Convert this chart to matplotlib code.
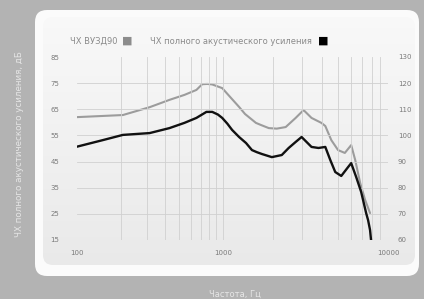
import numpy as np
import matplotlib
matplotlib.use("Agg")
import matplotlib.pyplot as plt
from matplotlib.patches import FancyBboxPatch
from matplotlib.transforms import IdentityTransform

# ---- data ----
freq_black = [100, 150, 206, 314, 429, 543, 656, 768, 842, 920, 985, 1060, 1133, 1249, 1376,
              1495, 1600, 1717, 1973, 2267, 2497, 2753, 2991, 3205, 3435, 3786, 4165, 4465,
              4786, 5205, 5727, 5979, 6411, 6873, 7368, 7572, 7782, 7890]
gain_black = [50.7, 53.2, 55.2, 55.9, 57.8, 59.8, 61.7, 64.0, 64.0, 63.0, 61.7, 59.5, 57.1,
              54.4, 52.1, 49.4, 48.6, 47.9, 46.7, 47.5, 50.2, 52.5, 54.4, 52.5, 50.6, 50.2,
              50.6, 45.6, 41.0, 39.5, 42.9, 44.4, 39.1, 33.4, 25.3, 22.6, 18.8, 15.0]

freq_grey = [100, 206, 314, 429, 543, 656, 719, 780, 842, 985, 1117, 1249, 1357, 1580, 1694,
             1892, 2115, 2395, 2753, 3075, 3435, 3943, 4165, 4530, 4977, 5471, 5979, 6325,
             6779, 7266, 7782]
level_grey = [107.0, 107.8, 110.8, 113.6, 115.5, 117.4, 119.6, 119.7, 119.5, 118.1, 114.3,
              110.9, 108.2, 104.8, 104.0, 102.8, 102.6, 103.2, 106.7, 109.7, 106.7, 104.8,
              103.6, 98.2, 94.4, 93.3, 96.3, 90.6, 81.8, 75.3, 70.3]

left_ticks = [15, 25, 35, 45, 55, 65, 75, 85]
right_ticks = [60, 70, 80, 90, 100, 110, 120, 130]
grid_y = [25, 35, 45, 55, 65, 75]
x_major = [100, 1000, 10000]
x_minor = [200, 300, 400, 500, 600, 700, 800, 900,
           2000, 3000, 4000, 5000, 6000, 7000, 8000, 9000]

legend_grey = "ЧХ ВУЗД90"
legend_black = "ЧХ полного акустического усиления"
ylabel_text = "ЧХ полного акустического усиления, дБ"
xlabel_text = "Частота, Гц"

W, H = 424, 299
fig = plt.figure(figsize=(W / 100, H / 100), dpi=100)
fig.patch.set_facecolor("#b3b3b3")

# white rounded card
card = FancyBboxPatch((35, 23), 384, 266, boxstyle="round,pad=0,rounding_size=12",
                      transform=IdentityTransform(), facecolor="#fbfbfb",
                      edgecolor="none", zorder=0)
fig.add_artist(card)

# inner light panel with gradient
px0, py0, px1, py1 = 43, 34, 415, 282
bg = fig.add_axes([px0 / W, py0 / H, (px1 - px0) / W, (py1 - py0) / H], zorder=0.5)
grad = np.linspace(0.975, 0.915, 100).reshape(-1, 1)
grad_img = np.dstack([grad, grad, grad])
im = bg.imshow(grad_img, aspect="auto", extent=[0, 1, 0, 1])
clip = FancyBboxPatch((px0, py0), px1 - px0, py1 - py0,
                      boxstyle="round,pad=0,rounding_size=10",
                      transform=IdentityTransform(), facecolor="none", edgecolor="none")
im.set_clip_path(clip)
bg.axis("off")


def fwd(f):
    u = np.log10(np.clip(np.asarray(f, dtype=float), 1e-6, None))
    return np.where(u <= 3, (u - 2) * 0.47, 0.47 + (u - 3) * 0.53)


def inv(v):
    v = np.asarray(v, dtype=float)
    return np.where(v <= 0.47, 10 ** (2 + v / 0.47), 10 ** (3 + (v - 0.47) / 0.53))


ax_l, ax_r, ax_t, ax_b = 77, 388, 57, 240
ax = fig.add_axes([ax_l / W, 1 - ax_b / H, (ax_r - ax_l) / W, (ax_b - ax_t) / H], zorder=3)
ax.set_facecolor("none")
ax.set_xscale("function", functions=(fwd, inv))
ax.set_xlim(100, 10000)
ax.set_ylim(15, 85)
ax2 = ax.twinx()
ax2.set_zorder(2)
ax2.set_facecolor("none")
ax2.set_ylim(60, 130)
ax.set_zorder(3)

for a in (ax, ax2):
    for s in a.spines.values():
        s.set_visible(False)

grid_c = "#d0d0d0"
for v in grid_y:
    ax.axhline(v, color=grid_c, lw=0.6, zorder=0)
for v in x_minor + [1000]:
    ax.axvline(v, color=grid_c, lw=0.6, zorder=0)

ax.plot(freq_black, gain_black, color="#111111", lw=1.7, solid_joinstyle="round",
        solid_capstyle="round", zorder=5)
ax2.plot(freq_grey, level_grey, color="#9c9c9c", lw=1.5, solid_joinstyle="round",
         solid_capstyle="round", zorder=4)

tick_c = "#7a7a7a"
ax.set_yticks(left_ticks)
ax.set_yticklabels([str(t) for t in left_ticks])
ax2.set_yticks(right_ticks)
ax2.set_yticklabels([str(t) for t in right_ticks])
ax.set_xticks(x_major)
ax.set_xticklabels([str(t) for t in x_major])
ax.set_xticks(x_minor, minor=True)
ax.xaxis.set_minor_formatter(matplotlib.ticker.NullFormatter())
ax.tick_params(axis="y", length=0, pad=16, labelsize=5, labelcolor=tick_c)
ax.tick_params(axis="x", which="both", length=0, pad=7, labelsize=5, labelcolor=tick_c)
ax2.tick_params(axis="y", length=0, pad=7, labelsize=5, labelcolor=tick_c)
for lab in ax.get_yticklabels():
    lab.set_horizontalalignment("center")
for lab in ax2.get_yticklabels():
    lab.set_horizontalalignment("left")

# legend row
leg_y = 1 - 41 / H
fig.text(70 / W, leg_y, legend_grey, fontsize=6, color="#8a8a8a", va="center", ha="left", zorder=6)
fig.text(122 / W, leg_y, "■", fontsize=8, color="#8c8c8c", va="center", ha="left", zorder=6)
fig.text(150 / W, leg_y, legend_black, fontsize=6, color="#8a8a8a", va="center", ha="left", zorder=6)
fig.text(318 / W, leg_y, "■", fontsize=8, color="#000000", va="center", ha="left", zorder=6)

# outer labels on grey border
fig.text(20 / W, 1 - 144 / H, ylabel_text, rotation=90, fontsize=6.3, color="#e6e6e6",
         va="center", ha="center")
fig.text(235 / W, 1 - 294 / H, xlabel_text, fontsize=6, color="#e6e6e6",
         va="center", ha="center")

fig.savefig("out.png", dpi=100, facecolor=fig.get_facecolor())
